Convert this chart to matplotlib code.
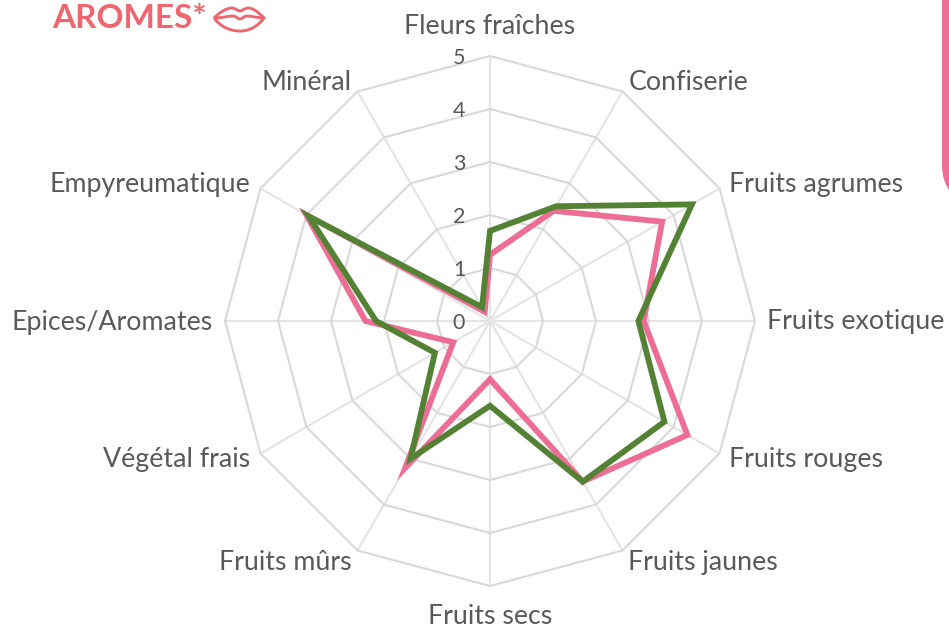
import matplotlib.pyplot as plt
import numpy as np
from matplotlib.patches import PathPatch
from matplotlib.path import Path

categories = [
    "Fleurs fraîches", "Confiserie", "Fruits agrumes", "Fruits exotique",
    "Fruits rouges", "Fruits jaunes", "Fruits secs", "Fruits mûrs",
    "Végétal frais", "Epices/Aromates", "Empyreumatique", "Minéral",
]
pink_values = [1.25, 2.4, 3.75, 2.9, 4.3, 3.5, 1.1, 3.2, 0.8, 2.35, 4.0, 0.2]
green_values = [1.7, 2.5, 4.4, 2.8, 3.8, 3.5, 1.6, 3.0, 1.2, 2.15, 3.95, 0.3]
r_ticks = [0, 1, 2, 3, 4, 5]

PINK = "#EE6D94"
GREEN = "#548235"
GRID = "#D9D9D9"
TEXT = "#595959"
RED = "#EE6670"

# label offset from the outer vertex, in pixels (x right, y up)
label_offsets = [
    (0, 30), (6, 9), (10, 4), (12, -1), (10, -6), (6, -12),
    (0, -30), (-6, -12), (-10, -6), (-12, -1), (-10, 4), (-6, 9),
]
label_aligns = [
    "center", "left", "left", "left", "left", "left",
    "center", "right", "right", "right", "right", "right",
]


def px(value):
    return value * 72 / 100


def draw_lips(over):
    lips = [
        (Path.MOVETO, (214, 18)),
        (Path.CURVE4, (219, 13)), (Path.CURVE4, (226, 8)), (Path.CURVE4, (232, 8)),
        (Path.CURVE4, (235, 8)), (Path.CURVE4, (238, 11)), (Path.CURVE4, (240, 11)),
        (Path.CURVE4, (242, 11)), (Path.CURVE4, (245, 8)), (Path.CURVE4, (248, 8)),
        (Path.CURVE4, (254, 8)), (Path.CURVE4, (259, 13)), (Path.CURVE4, (264, 18)),
        (Path.CURVE4, (258, 26)), (Path.CURVE4, (250, 31)), (Path.CURVE4, (240, 31)),
        (Path.CURVE4, (229, 31)), (Path.CURVE4, (220, 26)), (Path.CURVE4, (214, 18)),
        (Path.MOVETO, (214, 18)),
        (Path.CURVE4, (222, 18)), (Path.CURVE4, (228, 16)), (Path.CURVE4, (233, 16)),
        (Path.CURVE4, (236, 16)), (Path.CURVE4, (238, 19)), (Path.CURVE4, (240, 19)),
        (Path.CURVE4, (242, 19)), (Path.CURVE4, (244, 16)), (Path.CURVE4, (247, 16)),
        (Path.CURVE4, (252, 16)), (Path.CURVE4, (258, 18)), (Path.CURVE4, (264, 18)),
    ]
    codes = [c for c, _ in lips]
    verts = [v for _, v in lips]
    over.add_patch(PathPatch(Path(verts, codes), fill=False, ec=RED, lw=2.1))


def draw_corner(over):
    verts = [(942, -5), (942, 165), (942, 176), (945, 184), (949, 190), (955, 190), (955, -5), (942, -5)]
    codes = [Path.MOVETO, Path.LINETO, Path.CURVE4, Path.CURVE4, Path.CURVE4, Path.LINETO, Path.LINETO, Path.CLOSEPOLY]
    over.add_patch(PathPatch(Path(verts, codes), fc=PINK, ec="none"))


def main():
    plt.rcParams["font.family"] = ["Lato", "DejaVu Sans"]

    fig = plt.figure(figsize=(9.49, 6.27), dpi=100)
    cx, cy, radius = 490, 321, 265
    ax = fig.add_axes(
        [(cx - radius) / 949, (627 - cy - radius) / 627, 2 * radius / 949, 2 * radius / 627],
        projection="polar",
    )
    ax.set_theta_zero_location("N")
    ax.set_theta_direction(-1)
    ax.set_ylim(0, r_ticks[-1])
    ax.axis("off")

    theta = np.deg2rad(np.arange(len(categories)) * 360 / len(categories))

    for t in theta:
        ax.plot([t, t], [0, r_ticks[-1]], color="#E4E4E4", lw=1.5, clip_on=False, zorder=1)
    for r in r_ticks[1:]:
        ax.fill(theta, [r] * len(theta), fill=False, ec=GRID, lw=1.5, clip_on=False, zorder=2)

    ax.fill(theta, pink_values, fill=False, ec=PINK, lw=4.2, joinstyle="miter", clip_on=False, zorder=3)
    ax.fill(theta, green_values, fill=False, ec=GREEN, lw=4.2, joinstyle="miter", clip_on=False, zorder=4)

    for t, name, (dx, dy), ha in zip(theta, categories, label_offsets, label_aligns):
        ax.annotate(
            name, (t, r_ticks[-1]), xytext=(px(dx), px(dy)), textcoords="offset points",
            ha=ha, va="center", fontsize=19.3, color=TEXT, annotation_clip=False,
        )
    for r in r_ticks:
        ax.annotate(
            str(r), (0, r), xytext=(px(-31), px(-2)), textcoords="offset points",
            ha="center", va="center", fontsize=15.5, color=TEXT, annotation_clip=False, zorder=5,
        )

    over = fig.add_axes([0, 0, 1, 1], facecolor="none")
    over.set_xlim(0, 949)
    over.set_ylim(627, 0)
    over.axis("off")
    over.text(52, 18.5, "AROMES*", fontsize=24, fontweight="bold", color=RED, ha="left", va="center")
    draw_lips(over)
    draw_corner(over)

    fig.savefig("out.png", dpi=100)


if __name__ == "__main__":
    main()
